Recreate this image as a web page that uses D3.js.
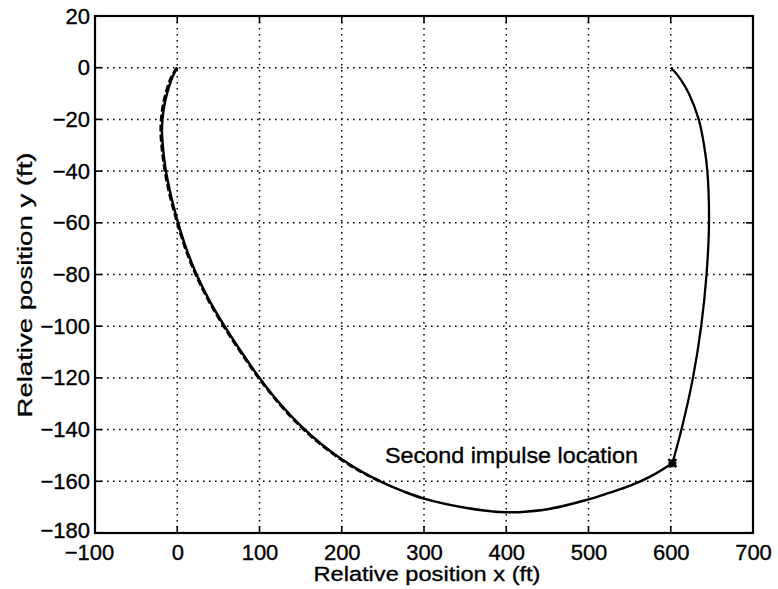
<!DOCTYPE html>
<html>
<head>
<meta charset="utf-8">
<script src="https://cdn.jsdelivr.net/npm/d3@7"></script>
<style>
  html, body { margin: 0; padding: 0; background: #fff; }
  svg { display: block; }
  text { font-family: "Liberation Sans", Arial, Helvetica, sans-serif; fill: #000; }
</style>
</head>
<body>
<svg id="chart" width="778" height="589"></svg>
<script>
// ---- data ----
const xTicks = [-100, 0, 100, 200, 300, 400, 500, 600, 700];
const yTicks = [20, 0, -20, -40, -60, -80, -100, -120, -140, -160, -180];

// first leg (solid) : relative position x, y (ft)
const leg1X = [0, -3.5, -7.5, -12.5, -16, -18, -18.6, -17.6, -16, -13.8, -10.8, -7.3, -3.3, 1, 11, 23.5, 39, 57.5, 78, 100, 125, 150, 175, 200, 225, 250, 275, 300, 350, 400, 450, 500, 525, 550, 575, 602];
const leg1Y = [0, -2, -5, -10, -15, -20, -25, -30, -35, -40, -45, -50, -55, -60, -70, -80, -90, -100, -110, -120, -130, -138.5, -145.6, -151.5, -156.4, -160.5, -163.9, -166.7, -170.2, -172, -170.8, -167, -164.5, -161.8, -158.2, -153];

// first leg, second trace (dashed, nearly coincident)
const leg1bX = [0, -4.5, -9, -14, -17.5, -19.5, -20, -19, -17.2, -15, -12, -8.5, -4.3, 0, 10, 22.5, 38, 56.5, 77, 99, 124, 149, 174, 199, 224, 250];
const leg1bY = [0, -2, -5, -10, -15, -20, -25, -30, -35, -40, -45, -50, -55, -60, -70, -80, -90, -100, -110, -120, -130, -138.5, -145.6, -151.5, -156.4, -160.5];

// second leg (after second impulse)
const leg2X = [602, 613, 627, 637, 643.5, 646.5, 644.5, 640.5, 634, 622, 613, 606, 600];
const leg2Y = [-153, -140, -120, -100, -80, -60, -40, -30, -20, -10, -5, -2, 0];

const impulseX = [602];
const impulseY = [-153];
const annotation = "Second impulse location";
const xLabel = "Relative position x (ft)";
const yLabel = "Relative position y (ft)";

// ---- layout ----
const svg = d3.select("#chart");
const L = 95, R = 753, T = 16, B = 533;
const x = d3.scaleLinear().domain([-100, 700]).range([L, R]);
const y = d3.scaleLinear().domain([-180, 20]).range([B, T]);

// grid (dotted)
const grid = svg.append("g");
grid.selectAll("line.vx").data(xTicks.slice(1, -1)).enter().append("line")
  .attr("x1", d => x(d)).attr("x2", d => x(d)).attr("y1", T).attr("y2", B)
  .attr("stroke", "#000").attr("stroke-width", 1.5).attr("stroke-dasharray", "1.6,4.4");
grid.selectAll("line.hy").data(yTicks.slice(1, -1)).enter().append("line")
  .attr("y1", d => y(d)).attr("y2", d => y(d)).attr("x1", L).attr("x2", R)
  .attr("stroke", "#000").attr("stroke-width", 1.5).attr("stroke-dasharray", "1.6,4.4");

// axes
const fs = 22;
const fmt = d => d < 0 ? "\u2212" + Math.abs(d) : d;
const xAxis = d3.axisBottom(x).tickValues(xTicks).tickSize(0).tickPadding(11).tickFormat(fmt);
const gx = svg.append("g").attr("transform", `translate(0,${B})`).call(xAxis);
gx.select(".domain").remove();
gx.selectAll("text").attr("font-size", fs).attr("font-family", "Liberation Sans, Arial, sans-serif")
  .attr("fill", "#000").attr("stroke", "#000").attr("stroke-width", 0.35)
  .attr("dx", d => d < 0 ? -6 : 0);

const yAxis = d3.axisLeft(y).tickValues(yTicks).tickSize(0).tickPadding(5).tickFormat(fmt);
const gy = svg.append("g").attr("transform", `translate(${L},0)`).call(yAxis);
gy.select(".domain").remove();
gy.selectAll("text").attr("font-size", fs).attr("font-family", "Liberation Sans, Arial, sans-serif")
  .attr("fill", "#000").attr("stroke", "#000").attr("stroke-width", 0.35)
  .attr("dy", d => d === -180 ? "0.2em" : "0.32em");

// inward tick marks on all sides
const tk = 7;
const ticks = svg.append("g").attr("stroke", "#000").attr("stroke-width", 1.6);
xTicks.forEach(d => {
  ticks.append("line").attr("x1", x(d)).attr("x2", x(d)).attr("y1", B).attr("y2", B - tk);
  ticks.append("line").attr("x1", x(d)).attr("x2", x(d)).attr("y1", T).attr("y2", T + tk);
});
yTicks.forEach(d => {
  ticks.append("line").attr("y1", y(d)).attr("y2", y(d)).attr("x1", L).attr("x2", L + tk);
  ticks.append("line").attr("y1", y(d)).attr("y2", y(d)).attr("x1", R).attr("x2", R - tk);
});

// box
svg.append("rect").attr("x", L).attr("y", T).attr("width", R - L).attr("height", B - T)
  .attr("fill", "none").attr("stroke", "#000").attr("stroke-width", 2.2);

// curves
const line = d3.line().x(d => x(d[0])).y(d => y(d[1])).curve(d3.curveCatmullRom.alpha(0.5));
const leg1 = leg1X.map((v, i) => [v, leg1Y[i]]);
const leg1b = leg1bX.map((v, i) => [v, leg1bY[i]]);
const leg2 = leg2X.map((v, i) => [v, leg2Y[i]]);

svg.append("path").attr("d", line(leg1b)).attr("fill", "none").attr("stroke", "#000")
  .attr("stroke-width", 2.8).attr("stroke-dasharray", "7,3");
svg.append("path").attr("d", line(leg1)).attr("fill", "none").attr("stroke", "#000").attr("stroke-width", 2.5);
svg.append("path").attr("d", line(leg2)).attr("fill", "none").attr("stroke", "#000").attr("stroke-width", 2.3);

// impulse marker
impulseX.forEach((v, i) => {
  const cx = x(v), cy = y(impulseY[i]), s = 4;
  svg.append("path").attr("d", `M${cx - s},${cy - s}L${cx + s},${cy + s}M${cx - s},${cy + s}L${cx + s},${cy - s}M${cx - s},${cy}L${cx + s},${cy}M${cx},${cy - s}L${cx},${cy + s}`)
    .attr("stroke", "#000").attr("stroke-width", 2.5);
});

// annotation
svg.append("text").attr("x", 385).attr("y", 463).attr("font-size", 22.5)
  .attr("stroke", "#000").attr("stroke-width", 0.35)
  .attr("textLength", 253).attr("lengthAdjust", "spacingAndGlyphs").text(annotation);

// axis titles
svg.append("text").attr("x", 427).attr("y", 581).attr("text-anchor", "middle")
  .attr("font-size", 19.5).attr("stroke", "#000").attr("stroke-width", 0.3)
  .attr("textLength", 227).attr("lengthAdjust", "spacingAndGlyphs").text(xLabel);
svg.append("text").attr("transform", `translate(32,285) rotate(-90)`).attr("text-anchor", "middle")
  .attr("font-size", 20).attr("stroke", "#000").attr("stroke-width", 0.3)
  .attr("textLength", 265).attr("lengthAdjust", "spacingAndGlyphs").text(yLabel);
</script>
</body>
</html>
